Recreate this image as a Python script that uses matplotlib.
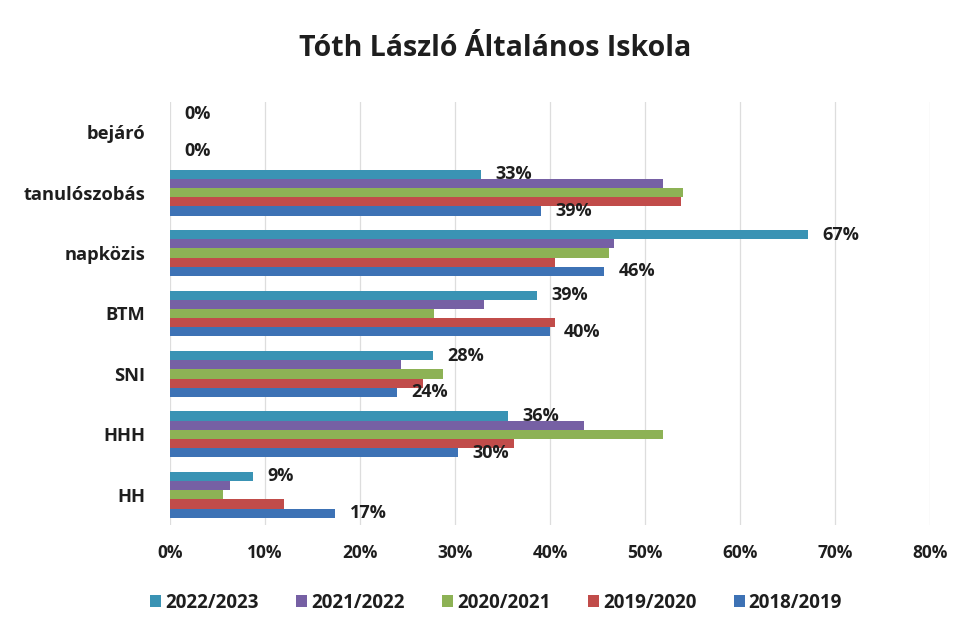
import matplotlib
matplotlib.use("Agg")
import matplotlib.pyplot as plt
import numpy as np

plt.rcParams['font.family'] = ['Open Sans', 'DejaVu Sans']

# Data (bottom -> top)
categories = ['HH', 'HHH', 'SNI', 'BTM', 'napközis', 'tanulószobás', 'bejáró']
series_names = ['2022/2023', '2021/2022', '2020/2021', '2019/2020', '2018/2019']
v_2022_2023 = [8.7, 35.6, 27.7, 38.6, 67.2, 32.7, 0]
v_2021_2022 = [6.3, 43.6, 24.3, 33.0, 46.7, 51.9, 0]
v_2020_2021 = [5.6, 51.9, 28.7, 27.8, 46.2, 54.0, 0]
v_2019_2020 = [12.0, 36.2, 26.6, 40.5, 40.5, 53.8, 0]
v_2018_2019 = [17.4, 30.3, 23.9, 40.0, 45.7, 39.1, 0]
values = [v_2022_2023, v_2021_2022, v_2020_2021, v_2019_2020, v_2018_2019]
colors = ['#3a93b4', '#7660a4', '#8db255', '#c14c4a', '#3d72b5']
labelled = {0: [9, 36, 28, 39, 67, 33, 0], 4: [17, 30, 24, 40, 46, 39, 0]}

fig = plt.figure(figsize=(9.61, 6.32), dpi=100)
ax = fig.add_axes([170/961, 1 - 525/632, 760/961, 423/632])

y = np.arange(len(categories))
h = 0.152
for i, (name, vals, c) in enumerate(zip(series_names, values, colors)):
    offs = (2 - i) * h
    ax.barh(y + offs, vals, height=h, color=c, label=name, zorder=3)
    if i in labelled:
        for yy, v, lab in zip(y, vals, labelled[i]):
            ax.text(v + 1.5, yy + offs, f'{lab}%', va='center', ha='left',
                    fontsize=13, fontweight='bold', color='#1e1e1e', zorder=4)

ax.set_xlim(0, 80)
ax.set_ylim(-0.5, len(categories) - 0.5)
ax.set_xticks(np.arange(0, 81, 10))
ax.set_xticklabels([f'{t}%' for t in range(0, 81, 10)], fontsize=12.5, fontweight='bold', color='#1e1e1e')
ax.set_yticks(y)
ax.set_yticklabels(categories, fontsize=13.2, fontweight='bold', color='#1e1e1e')
ax.tick_params(axis='y', length=0, pad=18)
ax.tick_params(axis='x', length=0, pad=14)
ax.grid(axis='x', color='#dddddd', linewidth=0.9, zorder=0)
for s in ax.spines.values():
    s.set_visible(False)

fig.text(495/961, 1 - 48/632, 'Tóth László Általános Iskola', ha='center', va='center',
         fontsize=20.5, fontweight='bold', color='#1e1e1e')

leg = fig.legend(loc='center', bbox_to_anchor=(496/961, 1 - 603/632), ncol=5,
                 frameon=False, handlelength=0.6, handleheight=0.6, handletextpad=0.2,
                 columnspacing=2.0, prop={'size': 13.5, 'weight': 'bold'})
for t in leg.get_texts():
    t.set_color('#1e1e1e')

fig.savefig('out.png', dpi=100)
